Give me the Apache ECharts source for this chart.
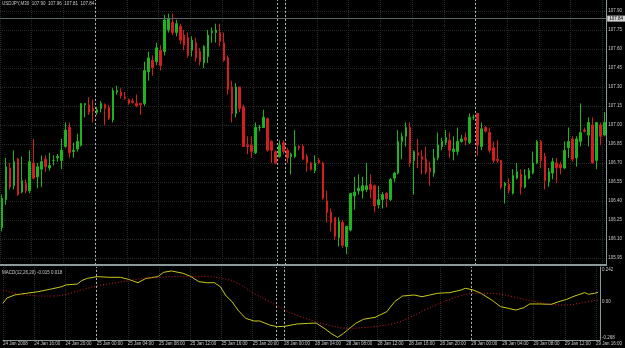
<!DOCTYPE html>
<html>
<head>
<meta charset="utf-8">
<script src="https://cdn.jsdelivr.net/npm/echarts@6/dist/echarts.min.js"></script>
<style>
  html, body { margin: 0; padding: 0; background: #000; }
  #chart { width: 625px; height: 348px; }
</style>
</head>
<body>
<div id="chart"></div>
<script>
// USDJPY M30 bars, [open, close, low, high]
const candles = [
  [106.19,106.42,106.16,106.45],[106.41,106.67,106.37,106.74],[106.66,106.51,106.49,106.70],[106.52,106.71,106.49,106.80],
  [106.73,106.45,106.44,106.74],[106.47,106.56,106.46,106.75],[106.54,106.48,106.46,106.57],[106.48,106.71,106.46,106.80],
  [106.70,106.58,106.57,106.89],[106.59,106.67,106.50,106.70],[106.65,106.71,106.51,106.76],[106.73,106.67,106.63,106.76],
  [106.66,106.68,106.64,106.78],[106.72,106.72,106.68,106.76],[106.74,106.75,106.71,106.77],[106.72,106.80,106.65,106.89],
  [106.83,106.96,106.82,107.02],[106.98,106.78,106.74,107.02],[106.79,106.80,106.74,106.86],[106.81,106.87,106.79,106.93],
  [106.84,107.17,106.83,107.17],[107.16,107.17,107.06,107.17],[107.16,107.10,107.08,107.22],[107.13,107.11,107.02,107.20],
  [107.10,107.12,107.08,107.14],[107.13,107.17,107.10,107.19],[107.16,107.13,107.00,107.17],[107.14,107.05,107.04,107.16],
  [107.04,107.27,107.02,107.29],[107.26,107.27,107.24,107.31],[107.26,107.23,107.21,107.29],[107.22,107.21,107.20,107.26],
  [107.20,107.17,107.16,107.21],[107.19,107.18,107.17,107.21],[107.17,107.15,107.14,107.24],[107.17,107.16,107.08,107.17],
  [107.17,107.43,107.15,107.50],[107.42,107.53,107.35,107.58],[107.51,107.45,107.39,107.55],[107.50,107.61,107.47,107.65],
  [107.59,107.47,107.43,107.63],[107.58,107.83,107.55,107.87],[107.75,107.84,107.73,107.88],[107.81,107.73,107.71,107.88],
  [107.73,107.80,107.70,107.83],[107.78,107.67,107.64,107.80],[107.71,107.63,107.59,107.75],[107.69,107.55,107.53,107.73],
  [107.59,107.67,107.54,107.70],[107.65,107.53,107.50,107.69],[107.58,107.50,107.47,107.61],[107.49,107.62,107.45,107.63],
  [107.54,107.71,107.49,107.75],[107.73,107.74,107.65,107.77],[107.73,107.75,107.65,107.80],[107.73,107.66,107.62,107.80],
  [107.65,107.51,107.50,107.73],[107.53,107.28,107.24,107.55],[107.30,107.09,107.02,107.35],[107.09,107.30,107.06,107.33],
  [107.30,107.13,107.10,107.30],[107.14,106.83,106.83,107.16],[106.84,106.83,106.77,106.91],[106.84,106.79,106.74,106.91],
  [106.78,106.98,106.77,107.02],[106.98,106.98,106.95,107.00],[106.98,107.06,106.98,107.12],[107.05,106.80,106.79,107.06],
  [106.87,106.80,106.70,106.88],[106.79,106.70,106.69,106.80],[106.75,106.84,106.74,106.88],[106.86,106.79,106.77,106.88],
  [106.80,106.74,106.70,106.82],[106.75,106.77,106.61,106.78],[106.75,106.83,106.74,106.96],[106.83,106.82,106.80,106.84],
  [106.83,106.73,106.72,106.85],[106.75,106.70,106.63,106.77],[106.70,106.65,106.64,106.71],[106.64,106.70,106.62,106.76],
  [106.72,106.70,106.69,106.74],[106.70,106.42,106.41,106.71],[106.40,106.31,106.23,106.48],[106.31,106.23,106.16,106.34],
  [106.27,106.12,106.09,106.27],[106.11,106.24,106.04,106.27],[106.23,106.05,106.03,106.25],[106.04,106.20,105.98,106.20],
  [106.17,106.46,106.16,106.46],[106.44,106.47,106.33,106.59],[106.48,106.50,106.45,106.61],[106.48,106.52,106.42,106.59],
  [106.49,106.52,106.47,106.70],[106.53,106.49,106.42,106.61],[106.52,106.36,106.31,106.53],[106.37,106.41,106.34,106.52],
  [106.41,106.45,106.34,106.47],[106.46,106.42,106.35,106.47],[106.41,106.57,106.40,106.58],[106.58,106.62,106.55,106.63],
  [106.62,106.87,106.61,106.96],[106.87,106.91,106.73,106.94],[106.91,106.98,106.83,107.02],[106.98,106.70,106.67,107.02],
  [106.72,106.79,106.45,106.80],[106.78,106.76,106.66,106.89],[106.75,106.73,106.61,106.80],[106.73,106.63,106.61,106.83],
  [106.66,106.63,106.52,106.71],[106.62,106.74,106.59,106.81],[106.74,106.84,106.72,106.94],[106.83,106.87,106.80,106.90],
  [106.86,106.90,106.84,106.96],[106.88,106.80,106.74,106.94],[106.79,106.81,106.72,106.91],[106.79,106.87,106.76,106.98],
  [106.87,106.89,106.86,106.92],[106.90,106.88,106.84,106.94],[106.86,107.06,106.85,107.09],[107.06,107.06,107.04,107.08],
  [107.09,106.84,106.76,107.09],[106.83,106.97,106.80,107.02],[106.98,106.95,106.94,106.99],[106.94,106.80,106.78,106.98],
  [106.82,106.72,106.70,106.87],[106.73,106.72,106.70,106.88],[106.72,106.51,106.49,106.72],[106.52,106.54,106.38,106.55],
  [106.53,106.48,106.46,106.58],[106.46,106.60,106.45,106.65],[106.58,106.63,106.57,106.70],[106.61,106.51,106.45,106.65],
  [106.51,106.60,106.50,106.65],[106.58,106.64,106.57,106.66],[106.62,106.70,106.61,106.79],[106.70,106.87,106.69,106.88],
  [106.87,106.72,106.66,106.88],[106.75,106.56,106.49,106.78],[106.55,106.63,106.51,106.66],[106.62,106.71,106.57,106.74],
  [106.70,106.66,106.54,106.74],[106.69,106.66,106.61,106.71],[106.66,106.80,106.65,106.87],[106.82,106.87,106.74,106.98],
  [106.89,106.73,106.71,106.91],[106.74,106.89,106.67,106.91],[106.87,106.94,106.83,107.17],[106.96,106.95,106.94,106.98],
  [106.92,107.02,106.83,107.06],[107.00,106.70,106.70,107.06],[106.72,107.02,106.65,107.02],[107.00,106.91,106.84,107.02],
  [106.92,107.02,106.91,107.10]
];

// MACD main line and signal, [bar index, value]
const macdMain = [
  [-0.5,-0.010],[0.5,0.030],[2.5,0.053],[5.5,0.066],[8.5,0.078],[11.5,0.096],[14.6,0.116],[15.6,0.129],[18.6,0.136],
  [19.6,0.161],[21.1,0.179],[23.6,0.192],[26.6,0.187],[29.6,0.187],[31.6,0.172],[34.1,0.146],[36.1,0.178],[39.2,0.192],
  [40.7,0.225],[42.7,0.235],[45.7,0.217],[47.7,0.192],[49.7,0.154],[51.7,0.146],[53.7,0.146],[55.2,0.116],[56.7,0.045],
  [58.2,0.003],[59.7,-0.061],[61.7,-0.124],[63.8,-0.144],[65.3,-0.144],[67.8,-0.174],[69.8,-0.187],[71.8,-0.184],
  [74.8,-0.167],[77.8,-0.162],[79.8,-0.160],[81.8,-0.199],[83.8,-0.242],[85.3,-0.268],[86.8,-0.237],[89.9,-0.162],
  [91.9,-0.131],[94.9,-0.116],[97.9,-0.073],[99.9,0.003],[101.9,0.045],[104.9,0.053],[106.9,0.040],[108.9,0.053],
  [110.9,0.066],[114,0.071],[117,0.091],[118,0.104],[120,0.091],[122,0.066],[125,0.010],[127,-0.035],[129,-0.048],
  [131,-0.061],[133,-0.043],[134.5,-0.015],[137,-0.015],[140,-0.018],[142,0.003],[144,0.020],[146,0.045],[148.6,0.071],
  [149.6,0.058],[151.1,0.066],[152,0.073]
];
const macdSignal = [
  [-0.5,0.091],[2.5,0.066],[5.5,0.053],[9.5,0.045],[12.5,0.045],[15.6,0.058],[19.6,0.091],[23.6,0.121],[27.6,0.141],
  [31.6,0.161],[35.6,0.179],[39.7,0.187],[43.7,0.192],[47.7,0.192],[51.7,0.192],[55.7,0.179],[59.7,0.141],[63.8,0.066],
  [67.8,0.003],[71.8,-0.061],[75.8,-0.111],[79.8,-0.149],[83.8,-0.182],[87.9,-0.199],[91.9,-0.194],[95.9,-0.182],
  [99.9,-0.162],[103.9,-0.116],[107.9,-0.056],[111.9,-0.005],[116,0.040],[120,0.066],[124,0.066],[128,0.053],
  [132,0.028],[136,0.003],[140,-0.018],[144,-0.023],[148,-0.005],[152,0.015]
];

const tickLabels = ["24 Jan 2008","24 Jan 16:00","24 Jan 20:00","25 Jan 00:00","25 Jan 04:00","25 Jan 08:00",
  "25 Jan 12:00","25 Jan 16:00","25 Jan 20:00","28 Jan 00:00","28 Jan 04:00","28 Jan 08:00","28 Jan 12:00",
  "28 Jan 16:00","28 Jan 20:00","29 Jan 00:00","29 Jan 04:00","29 Jan 08:00","29 Jan 12:00","29 Jan 16:00"];
const priceTicks = [105.95,106.10,106.25,106.40,106.55,106.70,106.85,107.00,107.15,107.30,107.45,107.60,107.75,107.90];
const macdTicks = [-0.268, 0, 0.242];
const separators = [23.5, 69.5, 71.5, 119.5];   // day separators, in bars
const lastPrice = 107.84;

// a tick every 8 bars (4 hours), on the left edge of the bar
const tickPos = tickLabels.map((_, k) => k * 8 - 0.5);

const FONT = "Liberation Sans";
const TXT = "#c8c8c8";
const AXIS = "#8a9a9a";
const GRID = "#232b2b";
const FS = 4.5;

const chart = echarts.init(document.getElementById("chart"));

const gridLine = { show: true, lineStyle: { color: GRID, type: "dotted", width: 1 } };
const sepLine = {
  silent: true, symbol: "none", label: { show: false },
  lineStyle: { color: "#a0b4b4", type: [2, 2], width: 1 },
  data: separators.map((v) => ({ xAxis: v })),
};

chart.setOption({
  backgroundColor: "#000000",
  animation: false,
  textStyle: { fontFamily: FONT },
  title: [
    { text: "USDJPY,M30  107.90  107.96  107.81  107.84", left: 2, top: 1, padding: 0,
      textStyle: { fontFamily: FONT, fontSize: FS, color: TXT, fontWeight: "normal" } },
    { text: "MACD(12,26,20) -0.015 0.018", left: 2, top: 270, padding: 0,
      textStyle: { fontFamily: FONT, fontSize: FS, color: TXT, fontWeight: "normal" } },
  ],
  grid: [
    { left: 0, right: 17, top: 0, height: 265 },
    { left: 0, right: 17, top: 267, height: 73 },
  ],
  xAxis: [
    { type: "category", gridIndex: 0, data: candles.map((_, i) => i),
      axisLine: { onZero: false, lineStyle: { color: AXIS, width: 2 } }, axisTick: { show: false },
      axisLabel: { show: false }, splitLine: { show: false } },
    { type: "value", gridIndex: 0, min: -0.5, max: candles.length - 0.5,
      axisLine: { show: false, onZero: false }, axisTick: { show: false, customValues: tickPos },
      axisLabel: { show: false }, splitLine: gridLine },
    { type: "value", gridIndex: 1, min: -0.5, max: candles.length - 0.5,
      axisLine: { onZero: false, lineStyle: { color: AXIS, width: 1 } },
      axisTick: { show: false, customValues: tickPos },
      axisLabel: { customValues: tickPos, align: "left", margin: 1, fontSize: FS, color: TXT, fontFamily: FONT,
        formatter: (v) => tickLabels[Math.round((v + 0.5) / 8)] },
      splitLine: gridLine },
  ],
  yAxis: [
    { type: "value", gridIndex: 0, position: "right", min: 105.894, max: 107.987,
      axisLine: { show: true, onZero: false, lineStyle: { color: AXIS, width: 1 } },
      axisTick: { show: false, customValues: priceTicks },
      axisLabel: { customValues: priceTicks, margin: 2, fontSize: FS, color: TXT, fontFamily: FONT,
        formatter: (v) => v.toFixed(2) },
      splitLine: gridLine },
    { type: "value", gridIndex: 1, position: "right", min: -0.288, max: 0.265,
      axisLine: { show: true, onZero: false, lineStyle: { color: AXIS, width: 1 } },
      axisTick: { show: false, customValues: macdTicks },
      axisLabel: { customValues: macdTicks, margin: 2, fontSize: FS, color: TXT, fontFamily: FONT,
        formatter: (v) => (v === 0 ? "0.00" : v.toFixed(3)) },
      splitLine: { show: false } },
  ],
  series: [
    { type: "candlestick", xAxisIndex: 0, yAxisIndex: 0, data: candles, barWidth: 2,
      itemStyle: { color: "#1eb41e", color0: "#d21e1e", borderColor: "#1eb41e", borderColor0: "#d21e1e", borderWidth: 1 },
      markLine: {
        silent: true, symbol: "none",
        lineStyle: { color: "#5a6666", type: "solid", width: 1 },
        label: { position: "end", distance: 1, formatter: lastPrice.toFixed(2), fontSize: FS, fontFamily: FONT,
          color: "#000", backgroundColor: "#d0d0d0", padding: [1, 2, 0, 2] },
        data: [{ yAxis: lastPrice }],
      } },
    { type: "line", xAxisIndex: 1, yAxisIndex: 0, data: [], markLine: sepLine },
    { type: "line", xAxisIndex: 2, yAxisIndex: 1, data: macdMain, showSymbol: false,
      lineStyle: { color: "#c8c81e", width: 1 }, markLine: sepLine },
    { type: "line", xAxisIndex: 2, yAxisIndex: 1, data: macdSignal, showSymbol: false, smooth: 0.4,
      lineStyle: { color: "#d21e1e", width: 1, type: [1, 2] } },
  ],
});
</script>
</body>
</html>
